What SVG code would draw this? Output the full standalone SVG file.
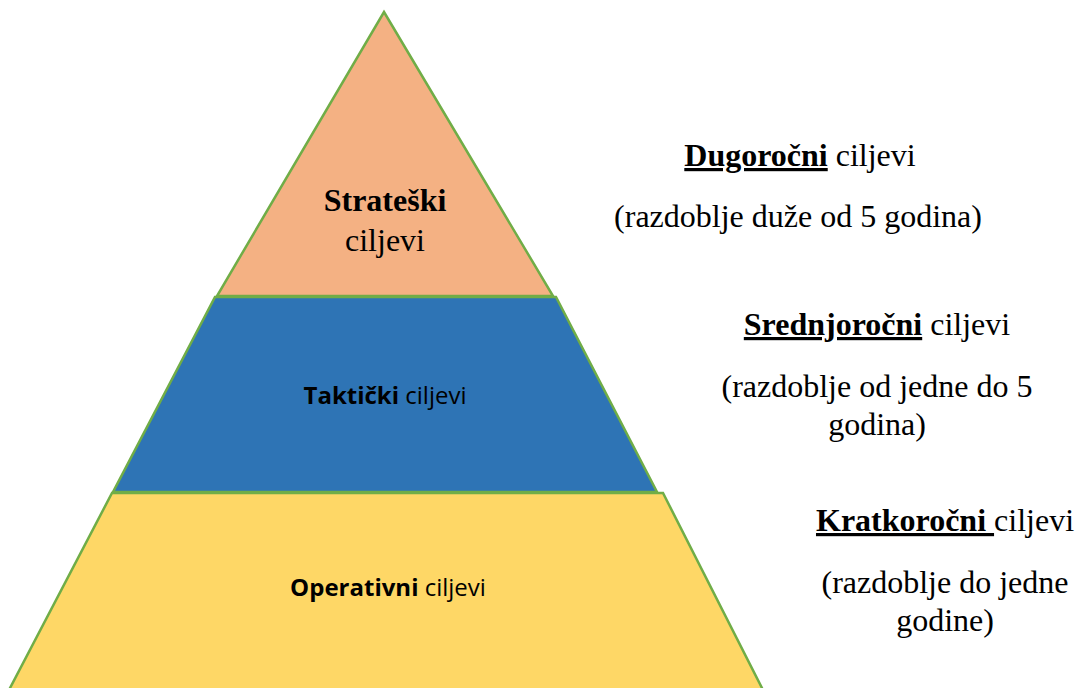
<svg xmlns="http://www.w3.org/2000/svg" width="1078" height="688" viewBox="0 0 1078 688">
<style>
.lvl{stroke:#70AD47;stroke-width:2.5;stroke-linejoin:miter}
.serif{font-family:"Liberation Serif","Times New Roman",serif;font-size:32px;fill:#000}
.sans{font-family:"Open Sans","Noto Sans",sans-serif;font-size:24px;fill:#000}
.b{font-weight:bold}
</style>
<rect width="1078" height="688" fill="#fff"/>
<g id="node-strateski">
<polygon class="lvl" points="384,12 553,296 217,296" fill="#F4B183"/>
<text class="serif b" x="385" y="211" text-anchor="middle">Strateški</text>
<text class="serif" x="385" y="251" text-anchor="middle">ciljevi</text>
</g>
<g id="node-takticki">
<polygon class="lvl" points="215,297 556,297 657,492 113,492" fill="#2E74B5"/>
<text class="sans" x="385" y="404" text-anchor="middle"><tspan class="b">Taktički</tspan> ciljevi</text>
</g>
<g id="node-operativni">
<polygon class="lvl" points="112,493 663,493 763,690 9,690" fill="#FED766"/>
<text class="sans" x="388" y="596" text-anchor="middle"><tspan class="b">Operativni</tspan> ciljevi</text>
</g>
<g id="label-dugorocni">
<text class="serif" x="800" y="166" text-anchor="middle"><tspan class="b" text-decoration="underline">Dugoročni</tspan> ciljevi</text>
<text class="serif" x="798" y="227" text-anchor="middle">(razdoblje duže od 5 godina)</text>
</g>
<g id="label-srednjorocni">
<text class="serif" x="877" y="335" text-anchor="middle"><tspan class="b" text-decoration="underline">Srednjoročni</tspan> ciljevi</text>
<text class="serif" x="877" y="397" text-anchor="middle">(razdoblje od jedne do 5</text>
<text class="serif" x="877" y="435" text-anchor="middle">godina)</text>
</g>
<g id="label-kratkorocni">
<text class="serif" x="945" y="531" text-anchor="middle"><tspan class="b" text-decoration="underline">Kratkoročni </tspan>ciljevi</text>
<text class="serif" x="945" y="593" text-anchor="middle">(razdoblje do jedne</text>
<text class="serif" x="945" y="631" text-anchor="middle">godine)</text>
</g>
<g id="connectors"></g>
</svg>
